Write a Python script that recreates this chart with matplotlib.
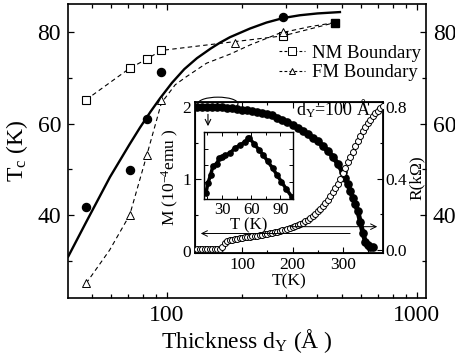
import matplotlib
matplotlib.use('Agg')
import matplotlib.pyplot as plt
from matplotlib.ticker import MultipleLocator, LogLocator, NullFormatter, FormatStrFormatter
from matplotlib.patches import Ellipse

plt.rcParams['font.family'] = ['Liberation Serif', 'DejaVu Serif']
plt.rcParams['mathtext.fontset'] = 'custom'
plt.rcParams['mathtext.rm'] = 'Liberation Serif'
plt.rcParams['mathtext.it'] = 'Liberation Serif:italic'

# ---------------- main panel data ----------------
# Tc data (filled circles)
tc_d = [47.5, 71, 83, 95, 292]
tc_T = [41.8, 49.8, 61.0, 71.2, 83.3]
# NM boundary (open squares) + last filled square
nm_d = [47.5, 71, 83, 95, 292]
nm_T = [65.2, 72.1, 74.1, 76.0, 79.2]
end_d = [470]
end_T = [82.1]
# FM boundary (open triangles)
fm_d = [47.5, 71, 83, 95, 187, 292]
fm_T = [25.0, 40.0, 53.1, 65.2, 77.6, 80.1]
# FM boundary dashed guide curve
fmc_d = [47.5, 59, 71, 83, 95, 108, 120, 144, 179, 215, 283, 373, 470]
fmc_T = [25.0, 32.3, 40.0, 53.0, 64.5, 68.5, 70.3, 73.2, 75.2, 77.2, 79.8, 81.2, 82.1]
# solid fit curve
fit_d = [40.3, 47.5, 59.2, 70.8, 78, 86, 93.8, 104.7, 117.3, 131.8, 149.5, 163, 178.7,
         215, 250, 292, 340, 400, 492]
fit_T = [30.9, 38.4, 48.3, 55.4, 59.1, 62.6, 65.5, 68.9, 71.9, 74.3, 76.4, 77.7, 78.9,
         80.8, 82.1, 83.1, 83.7, 84.1, 84.4]

# ---------------- inset data (d_Y = 100 A) ----------------
mT = [10, 20, 30, 40, 50, 60, 70, 80, 90, 100, 110, 120, 130, 140, 150, 160, 170, 180,
      190, 200, 210, 220, 230, 240, 250, 260, 270, 280, 290, 300, 305, 310, 315, 320,
      325, 330, 335, 340, 345, 350, 355, 360]
mM = [2.00, 2.00, 2.00, 2.00, 1.99, 1.99, 1.98, 1.98, 1.97, 1.96, 1.95, 1.94, 1.93, 1.92,
      1.90, 1.88, 1.85, 1.82, 1.79, 1.75, 1.71, 1.67, 1.62, 1.57, 1.52, 1.46, 1.39, 1.31,
      1.21, 1.09, 1.01, 0.93, 0.83, 0.74, 0.65, 0.55, 0.40, 0.25, 0.13, 0.08, 0.06, 0.05]
rT = [10, 15, 20, 25, 30, 35, 40, 45, 50, 55, 60, 65, 70, 75, 80, 85, 90, 95, 100, 105,
      110, 115, 120, 125, 130, 135, 140, 145, 150, 155, 160, 165, 170, 175, 180, 185, 190,
      195, 200, 205, 210, 215, 220, 225, 230, 235, 240, 245, 250, 255, 260, 265, 270, 275,
      280, 285, 290, 295, 300, 305, 310, 315, 320, 325, 330, 335, 340, 345, 350, 355, 360,
      365, 370, 375, 380]
rR = [0.005, 0.005, 0.005, 0.005, 0.005, 0.005, 0.005, 0.005, 0.005, 0.006, 0.015, 0.040,
      0.050, 0.055, 0.058, 0.061, 0.063, 0.066, 0.068, 0.070, 0.072, 0.074, 0.076, 0.078,
      0.080, 0.082, 0.085, 0.087, 0.090, 0.093, 0.096, 0.099, 0.102, 0.106, 0.110, 0.114,
      0.118, 0.122, 0.127, 0.133, 0.139, 0.146, 0.153, 0.161, 0.170, 0.180, 0.191, 0.203,
      0.216, 0.230, 0.245, 0.262, 0.280, 0.300, 0.322, 0.346, 0.372, 0.400, 0.430, 0.460,
      0.490, 0.520, 0.550, 0.580, 0.610, 0.640, 0.665, 0.690, 0.710, 0.730, 0.750, 0.765,
      0.780, 0.795, 0.805]
# low-T zoom (inner inset), arbitrary M units
zT = [13.5, 15.6, 18.4, 20.7, 24.5, 27.2, 29.7, 33.1, 38.2, 43.4, 48.6, 53.7, 57.1, 57.8,
      63, 68, 72.6, 77, 82, 86.4, 91, 96, 101.9]
zM = [1.909, 1.924, 1.936, 1.949, 1.952, 1.961, 1.963, 1.965, 1.968, 1.976, 1.980, 1.985,
      1.990, 1.991, 1.982, 1.973, 1.965, 1.956, 1.946, 1.936, 1.926, 1.915, 1.903]

W, H = 456, 362
fig = plt.figure(figsize=(W / 100, H / 100), dpi=100)


def frac(x0, y0, x1, y1):
    return [x0 / W, 1 - y1 / H, (x1 - x0) / W, (y1 - y0) / H]


ax = fig.add_axes(frac(68, 4.3, 426, 298))
ax.set_xscale('log')
ax.set_xlim(40.2, 1087)
ax.set_ylim(21.8, 86.1)

ax.plot(fit_d, fit_T, '-', color='black', lw=1.7, zorder=3)
ax.plot(fmc_d, fmc_T, '--', color='black', lw=0.8, dashes=(4, 3), zorder=2)
ax.plot(nm_d + end_d, nm_T + end_T, '--', color='black', lw=0.8, dashes=(4, 3), zorder=2)
ax.plot(tc_d, tc_T, 'o', color='black', ms=5.8, zorder=4)
ax.plot(nm_d, nm_T, 's', mfc='white', mec='black', mew=0.8, ms=6.2, zorder=4)
ax.plot(end_d, end_T, 's', color='black', ms=6.2, zorder=4)
ax.plot(fm_d, fm_T, '^', mfc='white', mec='black', mew=0.7, ms=5.2, zorder=4)

# legend proxies
ax.plot([], [], '--s', color='black', lw=0.8, dashes=(2.5, 2), mfc='white', mew=0.7, ms=5.5,
        label='NM Boundary')
ax.plot([], [], '--^', color='black', lw=0.8, dashes=(2.5, 2), mfc='white', mew=0.7, ms=4.5,
        label='FM Boundary')
ax.legend(loc='upper right', bbox_to_anchor=(0.985, 0.862), frameon=False, fontsize=13.5,
          handlelength=1.4, handletextpad=0.35, labelspacing=0.12, borderpad=0,
          borderaxespad=0)

ax.set_xticks([100, 1000])
ax.set_xticklabels(['100', '1000'])
ax.xaxis.set_minor_locator(LogLocator(base=10, subs=range(2, 10)))
ax.xaxis.set_minor_formatter(NullFormatter())
ax.yaxis.set_major_locator(MultipleLocator(20))
ax.yaxis.set_minor_locator(MultipleLocator(10))
ax.tick_params(which='both', direction='in', top=True, right=True, labelright=True,
               labelsize=17, width=0.9, pad=5)
ax.tick_params(which='major', length=4.5)
ax.tick_params(which='minor', length=3)
for s in ax.spines.values():
    s.set_linewidth(1.2)
ax.set_xlabel('Thickness d$_\\mathrm{Y}$ (Å )', fontsize=17, labelpad=1)
ax.set_ylabel('T$_\\mathrm{c}$ (K)', fontsize=17, labelpad=5)

# ---------------- inset ----------------
axi = fig.add_axes(frac(195, 101.7, 383, 253))
axi.set_facecolor('white')
axi.set_xlim(6, 380)
axi.set_ylim(-0.028, 2.07)
axi.plot(mT, mM, 'o-', color='black', lw=3.5, ms=5.2, zorder=3)
axi.xaxis.set_major_locator(MultipleLocator(100))
axi.xaxis.set_minor_locator(MultipleLocator(50))
axi.yaxis.set_major_locator(MultipleLocator(1))
axi.yaxis.set_minor_locator(MultipleLocator(0.5))
axi.tick_params(which='both', direction='in', top=True, labelsize=12.5, width=0.8, pad=3)
axi.tick_params(which='major', length=4)
axi.tick_params(which='minor', length=2.5)
for s in axi.spines.values():
    s.set_linewidth(1.3)
axi.set_xlabel('T(K)', fontsize=12.5, labelpad=0)
axi.set_ylabel('M (10$^{-4}$emu )', fontsize=12.5, labelpad=1)

axr = axi.twinx()
axr.set_ylim(-0.017, 0.83)
axr.plot(rT, rR, 'o', mfc='white', mec='black', mew=0.7, ms=4.3, zorder=3)
axr.yaxis.set_major_locator(MultipleLocator(0.4))
axr.yaxis.set_minor_locator(MultipleLocator(0.2))
axr.yaxis.set_major_formatter(FormatStrFormatter('%.1f'))
axr.tick_params(which='both', direction='in', labelsize=12.5, width=0.8, pad=2)
axr.tick_params(which='major', length=4)
axr.tick_params(which='minor', length=2.5)
axr.set_ylabel('R(kΩ)', fontsize=12.5, labelpad=1)

# annotations inside inset (axes-fraction positions)
axr.annotate('', xy=(0.016, 0.129), xytext=(0.840, 0.129), xycoords='axes fraction',
             arrowprops=dict(arrowstyle='->', color='black', lw=0.7))
axr.annotate('', xy=(0.984, 0.174), xytext=(0.489, 0.174), xycoords='axes fraction',
             arrowprops=dict(arrowstyle='->', color='black', lw=0.7))
axr.annotate('', xy=(0.069, 0.82), xytext=(0.069, 0.935), xycoords='axes fraction',
             arrowprops=dict(arrowstyle='->', color='black', lw=0.8))
axr.add_patch(Ellipse((0.122, 0.987), 0.213, 0.086, transform=axr.transAxes,
                      fill=False, ec='black', lw=0.8, clip_on=False, zorder=5))
axr.text(0.535, 0.955, 'd$_\\mathrm{Y}$=100 Å', transform=axr.transAxes, fontsize=13,
         ha='left', va='center', zorder=6)

# ---------------- inner inset (low-T zoom) ----------------
axz = fig.add_axes(frac(203.5, 131.7, 293, 199))
axz.set_facecolor('white')
axz.set_xlim(11, 103)
axz.set_ylim(1.900, 2.000)
axz.plot(zT, zM, 'o-', color='black', lw=2.5, ms=3.8)
axz.xaxis.set_major_locator(MultipleLocator(30))
axz.xaxis.set_minor_locator(MultipleLocator(15))
axz.yaxis.set_major_locator(MultipleLocator(0.025))
axz.tick_params(which='both', direction='in', top=True, right=True, labelsize=12,
                width=0.7, pad=2, labelleft=False)
axz.tick_params(which='major', length=3)
axz.tick_params(which='minor', length=2)
for s in axz.spines.values():
    s.set_linewidth(1.0)
axz.set_xlabel('T (K)', fontsize=12, labelpad=0)

fig.savefig('out.png', dpi=100)
